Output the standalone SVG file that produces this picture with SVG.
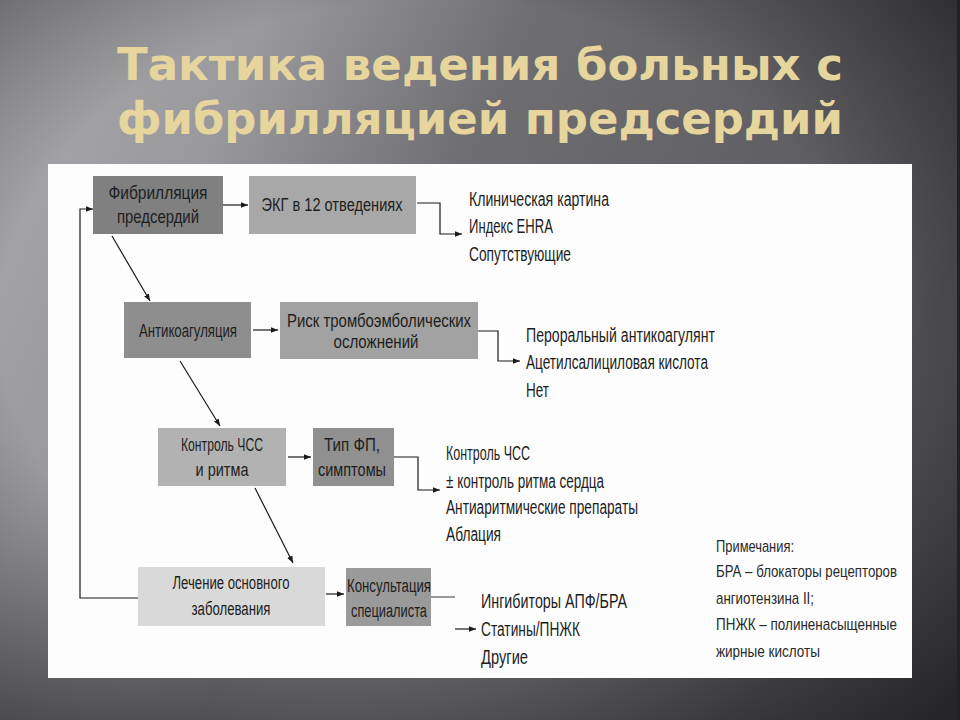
<svg xmlns="http://www.w3.org/2000/svg" width="960" height="720" viewBox="0 0 960 720">
<defs>
<linearGradient id="bg" x1="0" y1="0" x2="1" y2="0.35">
<stop offset="0" stop-color="#a9a9ad"/>
<stop offset="0.25" stop-color="#9a9a9e"/>
<stop offset="0.5" stop-color="#6e6e72"/>
<stop offset="1" stop-color="#55555a"/>
</linearGradient>
<radialGradient id="vig" cx="0.45" cy="0.45" r="0.75">
<stop offset="0.6" stop-color="#000" stop-opacity="0"/>
<stop offset="1" stop-color="#000" stop-opacity="0.55"/>
</radialGradient>
<marker id="ah" viewBox="0 0 10 10" refX="10" refY="5" markerWidth="7" markerHeight="7" markerUnits="userSpaceOnUse" orient="auto">
<path d="M0,1 L10,5 L0,9 z" fill="#1a1a1a"/>
</marker>
</defs>
<style>
.t{font-family:"Liberation Sans","DejaVu Sans",sans-serif;fill:#1e1e1e;dominant-baseline:central}
.bx{font-size:18px;text-anchor:middle}
.ls{font-size:20px}
.nt{font-size:17px;fill:#2a2a2a}
.ln{fill:none;stroke:#1a1a1a;stroke-width:1.2}
.ttl{font-family:"DejaVu Sans","Liberation Sans",sans-serif;font-weight:bold;font-size:45px;fill:#e6d59c;text-anchor:middle}
</style>
<rect width="960" height="720" fill="url(#bg)"/>
<rect width="960" height="720" fill="url(#vig)"/>
<rect x="957" y="0" width="3" height="720" fill="#222"/>
<text class="ttl" x="480" y="80" textLength="726" lengthAdjust="spacingAndGlyphs">Тактика ведения больных с</text>
<text class="ttl" x="480" y="134" textLength="726" lengthAdjust="spacingAndGlyphs">фибрилляцией предсердий</text>
<rect x="48" y="164" width="864" height="514" fill="#fdfdfd"/>

<g id="connectors">
<line class="ln" x1="223" y1="205" x2="248" y2="205" marker-end="url(#ah)"/>
<polyline class="ln" points="417,203 440,203 440,234 462,234" marker-end="url(#ah)"/>
<line class="ln" x1="253" y1="330" x2="278" y2="330" marker-end="url(#ah)"/>
<polyline class="ln" points="478,331 498,331 498,361 520,361" marker-end="url(#ah)"/>
<line class="ln" x1="288" y1="457" x2="311" y2="457" marker-end="url(#ah)"/>
<polyline class="ln" points="394,457 418,457 418,490 440,490" marker-end="url(#ah)"/>
<line class="ln" x1="326" y1="594" x2="344" y2="594" marker-end="url(#ah)"/>
<line x1="431" y1="597" x2="455" y2="597" stroke="#9a9a9a" stroke-width="2"/>
<line class="ln" x1="455" y1="629" x2="476" y2="629" marker-end="url(#ah)"/>
<polyline class="ln" points="138,598 80,598 80,209 93,209" marker-end="url(#ah)"/>
<line class="ln" x1="112" y1="236" x2="150" y2="301" marker-end="url(#ah)"/>
<line class="ln" x1="180" y1="361" x2="220" y2="426" marker-end="url(#ah)"/>
<line class="ln" x1="255" y1="488" x2="293" y2="563" marker-end="url(#ah)"/>
</g>

<g id="n-fp">
<rect x="93" y="176" width="130" height="58" fill="#808080"/>
<text class="t bx" x="158" y="193" textLength="99" lengthAdjust="spacingAndGlyphs">Фибрилляция</text>
<text class="t bx" x="158" y="217" textLength="82" lengthAdjust="spacingAndGlyphs">предсердий</text>
</g>
<g id="n-ekg">
<rect x="249" y="176" width="167" height="58" fill="#a8a8a8"/>
<text class="t bx" x="332" y="205" textLength="141" lengthAdjust="spacingAndGlyphs">ЭКГ в 12 отведениях</text>
</g>
<g id="n-ekg-out">
<text class="t ls" x="469" y="199" textLength="140" lengthAdjust="spacingAndGlyphs">Клиническая картина</text>
<text class="t ls" x="469" y="226" textLength="84" lengthAdjust="spacingAndGlyphs">Индекс EHRA</text>
<text class="t ls" x="469" y="254" textLength="102" lengthAdjust="spacingAndGlyphs">Сопутствующие</text>
</g>

<g id="n-ak">
<rect x="124" y="302" width="127" height="56" fill="#8e8e8e"/>
<text class="t bx" x="188" y="331" textLength="98" lengthAdjust="spacingAndGlyphs">Антикоагуляция</text>
</g>
<g id="n-risk">
<rect x="280" y="302" width="198" height="57" fill="#a2a2a2"/>
<text class="t bx" x="379" y="321" textLength="184" lengthAdjust="spacingAndGlyphs">Риск тромбоэмболических</text>
<text class="t bx" x="376" y="342" textLength="85" lengthAdjust="spacingAndGlyphs">осложнений</text>
</g>
<g id="n-risk-out">
<text class="t ls" x="526" y="335" textLength="189" lengthAdjust="spacingAndGlyphs">Пероральный антикоагулянт</text>
<text class="t ls" x="526" y="362" textLength="182" lengthAdjust="spacingAndGlyphs">Ацетилсалициловая кислота</text>
<text class="t ls" x="526" y="390" textLength="23" lengthAdjust="spacingAndGlyphs">Нет</text>
</g>

<g id="n-chss">
<rect x="158" y="428" width="128" height="58" fill="#b2b2b2"/>
<text class="t bx" x="222" y="445" textLength="82" lengthAdjust="spacingAndGlyphs">Контроль ЧСС</text>
<text class="t bx" x="222" y="470" textLength="53" lengthAdjust="spacingAndGlyphs">и ритма</text>
</g>
<g id="n-tip">
<rect x="313" y="428" width="81" height="58" fill="#909090"/>
<text class="t bx" x="352" y="445" textLength="56" lengthAdjust="spacingAndGlyphs">Тип ФП,</text>
<text class="t bx" x="352" y="470" textLength="68" lengthAdjust="spacingAndGlyphs">симптомы</text>
</g>
<g id="n-tip-out">
<text class="t ls" x="446" y="453" textLength="84" lengthAdjust="spacingAndGlyphs">Контроль ЧСС</text>
<text class="t ls" x="446" y="481" textLength="158" lengthAdjust="spacingAndGlyphs">± контроль ритма сердца</text>
<text class="t ls" x="446" y="507" textLength="192" lengthAdjust="spacingAndGlyphs">Антиаритмические препараты</text>
<text class="t ls" x="446" y="534" textLength="55" lengthAdjust="spacingAndGlyphs">Аблация</text>
</g>

<g id="n-lech">
<rect x="138" y="567" width="187" height="59" fill="#d9d9d9"/>
<text class="t bx" x="231" y="583" textLength="117" lengthAdjust="spacingAndGlyphs">Лечение основного</text>
<text class="t bx" x="231" y="609" textLength="79" lengthAdjust="spacingAndGlyphs">заболевания</text>
</g>
<g id="n-kons">
<rect x="346" y="568" width="85" height="58" fill="#9a9a9a"/>
<text class="t bx" x="389" y="586" textLength="84" lengthAdjust="spacingAndGlyphs">Консультация</text>
<text class="t bx" x="389" y="611" textLength="76" lengthAdjust="spacingAndGlyphs">специалиста</text>
</g>
<g id="n-kons-out">
<text class="t ls" x="481" y="601" textLength="146" lengthAdjust="spacingAndGlyphs">Ингибиторы АПФ/БРА</text>
<text class="t ls" x="481" y="629" textLength="99" lengthAdjust="spacingAndGlyphs">Статины/ПНЖК</text>
<text class="t ls" x="481" y="657" textLength="47" lengthAdjust="spacingAndGlyphs">Другие</text>
</g>

<g id="notes">
<text class="t nt" x="716" y="546" textLength="78" lengthAdjust="spacingAndGlyphs">Примечания:</text>
<text class="t nt" x="716" y="571" textLength="181" lengthAdjust="spacingAndGlyphs">БРА – блокаторы рецепторов</text>
<text class="t nt" x="716" y="598" textLength="98" lengthAdjust="spacingAndGlyphs">ангиотензина II;</text>
<text class="t nt" x="716" y="624" textLength="181" lengthAdjust="spacingAndGlyphs">ПНЖК – полиненасыщенные</text>
<text class="t nt" x="716" y="651" textLength="104" lengthAdjust="spacingAndGlyphs">жирные кислоты</text>
</g>
</svg>
